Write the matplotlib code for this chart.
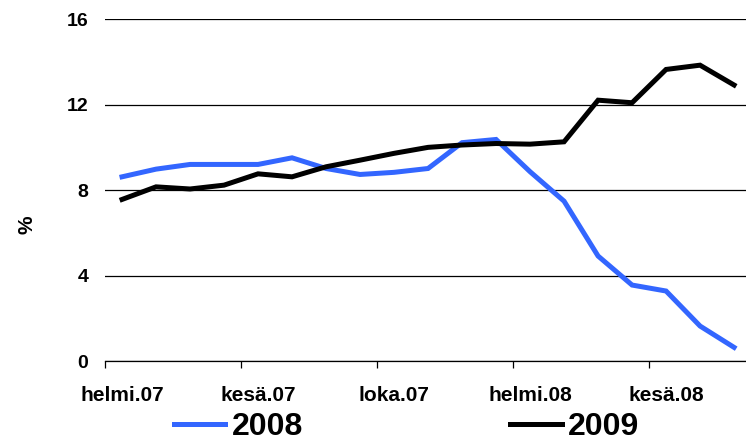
import matplotlib.pyplot as plt
import numpy as np

# 数据
months = np.arange(19)  # helmi.07 ... elo.08
series_2008 = [8.63, 8.99, 9.21, 9.21, 9.21, 9.52, 9.02, 8.74, 8.84, 9.02,
               10.23, 10.38, 8.87, 7.49, 4.92, 3.56, 3.28, 1.64, 0.64]
series_2009 = [7.57, 8.16, 8.06, 8.24, 8.77, 8.63, 9.10, 9.41, 9.73, 10.01,
               10.12, 10.19, 10.16, 10.27, 12.22, 12.10, 13.66, 13.86, 12.93]
tick_labels = ['helmi.07', 'kesä.07', 'loka.07', 'helmi.08', 'kesä.08']
y_ticks = [0, 4, 8, 12, 16]

plt.rcParams['font.family'] = ['Liberation Sans', 'DejaVu Sans']

fig = plt.figure(figsize=(7.46, 4.43), dpi=100)
ax = fig.add_axes([0.1408, 0.185, 0.866, 0.771])

ax.plot(months, series_2008, color='#3366ff', linewidth=3.6, label='2008',
        solid_joinstyle='miter')
ax.plot(months, series_2009, color='black', linewidth=3.6, label='2009',
        solid_joinstyle='miter')

ax.set_xlim(-0.5, 18.5)
ax.set_ylim(0, 16)

# 网格线
ax.set_yticks(y_ticks)
ax.set_yticklabels([str(v) for v in y_ticks], fontsize=14, fontweight='bold')
ax.yaxis.grid(True, color='black', linewidth=0.9)
ax.tick_params(axis='y', length=0, pad=12)

# x轴：刻度线在分类边界，标签在分类中心
ax.set_xticks(np.arange(-0.5, 18.5, 4))
ax.set_xticklabels([])
ax.set_xticks(np.arange(0, 19, 4), minor=True)
ax.set_xticklabels(tick_labels, minor=True, fontsize=15, fontweight='bold')
ax.tick_params(axis='x', which='major', direction='out', length=5, width=0.9)
ax.tick_params(axis='x', which='minor', length=0, pad=18)

for s in ['left', 'right', 'top']:
    ax.spines[s].set_visible(False)
ax.spines['bottom'].set_linewidth(0.9)
ax.set_axisbelow(True)

ax.set_ylabel('%', fontsize=15, fontweight='bold')
ax.yaxis.set_label_coords(-0.106, 0.40)

fig.legend(loc='center', bbox_to_anchor=(0.545, 0.035), ncol=2, frameon=False,
           handlelength=1.6, columnspacing=6.5, handletextpad=0.2,
           prop={'weight': 'bold', 'size': 23})

fig.savefig('out.png', dpi=100)
